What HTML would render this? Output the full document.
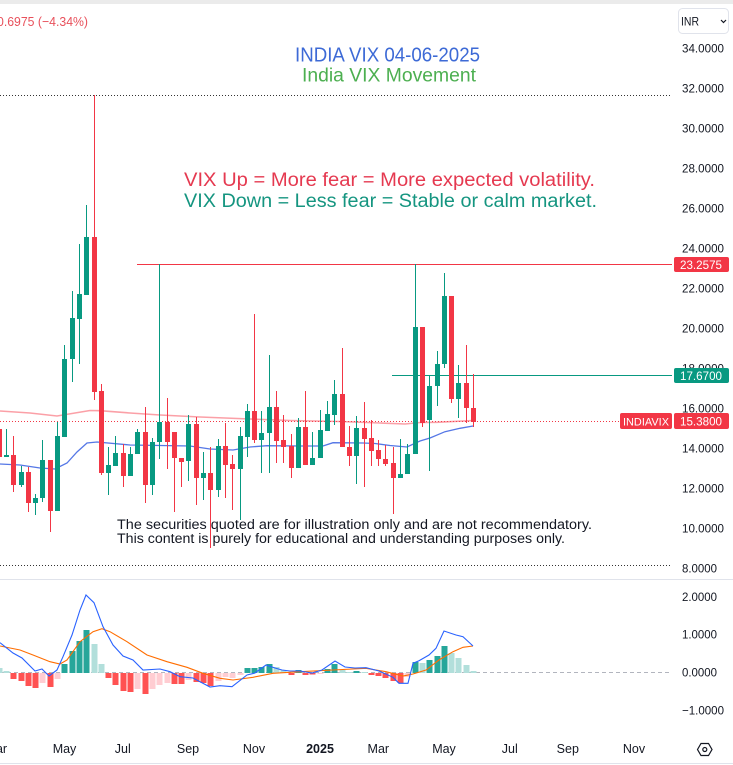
<!DOCTYPE html>
<html><head><meta charset="utf-8">
<style>
html,body{margin:0;padding:0;background:#fff;}
svg{display:block;font-family:"Liberation Sans","DejaVu Sans",sans-serif;}
</style></head>
<body>
<svg width="733" height="765" viewBox="0 0 733 765" xmlns="http://www.w3.org/2000/svg">
<rect x="0" y="0" width="733" height="765" fill="#ffffff"/>
<rect x="0" y="0" width="733" height="4" fill="#ebebeb"/>

<!-- header texts -->
<text x="-3" y="26" font-size="13" fill="#e8505b" textLength="91" lengthAdjust="spacingAndGlyphs">0.6975 (−4.34%)</text>
<text x="295" y="61.5" font-size="20" fill="#3d6ad6" textLength="185" lengthAdjust="spacingAndGlyphs">INDIA VIX 04-06-2025</text>
<text x="302" y="81.5" font-size="19" fill="#4caf50" textLength="174" lengthAdjust="spacingAndGlyphs">India VIX Movement</text>

<!-- INR box -->
<rect x="678.5" y="8.5" width="50" height="25" rx="4" fill="#fff" stroke="#e0e3eb"/>
<text x="681" y="25.5" font-size="12" fill="#131722" textLength="18" lengthAdjust="spacingAndGlyphs">INR</text>
<polyline points="721,20 723.5,22.5 726,20" fill="none" stroke="#131722" stroke-width="1.2"/>

<!-- dotted range lines -->
<line x1="0" y1="95.5" x2="672" y2="95.5" stroke="#333" stroke-dasharray="1 2"/>
<line x1="0" y1="565.5" x2="672" y2="565.5" stroke="#333" stroke-dasharray="1 2"/>

<!-- annotation texts -->
<text x="184" y="186" font-size="19" fill="#e53950" textLength="411" lengthAdjust="spacingAndGlyphs">VIX Up = More fear = More expected volatility.</text>
<text x="184" y="207" font-size="19" fill="#159580" textLength="413" lengthAdjust="spacingAndGlyphs">VIX Down = Less fear = Stable or calm market.</text>

<!-- horizontal lines -->
<line x1="137" y1="264.5" x2="672" y2="264.5" stroke="#f23645" stroke-width="1"/>
<line x1="392" y1="375.5" x2="672" y2="375.5" stroke="#089981" stroke-width="1"/>
<line x1="0" y1="421.5" x2="620" y2="421.5" stroke="#f23645" stroke-dasharray="1 2"/>

<!-- moving averages -->
<path d="M0 411 L30 413 L57 416 L75 413 L90 410.5 L100 410.7 L130 413 L160 415 L200 417 L250 419 L290 420.5 L340 421.5 L380 423 L405 424 L420 422.5 L437 422.3 L473 420.5" fill="none" stroke="#f7525f" stroke-opacity="0.55" stroke-width="1.6"/>
<path d="M0 464 L20 465 L40 468 L55 469 L67 463 L77 452 L87 443 L97 442 L130 445 L160 445.5 L190 446 L210 449 L233 450 L250 447 L267 445.7 L300 446 L323 446 L333 442.7 L363 443 L375 443.5 L390 445.5 L407 447 L420 441 L430 438 L445 431.7 L460 428.3 L473 426" fill="none" stroke="#5577e6" stroke-width="1.3"/>

<!-- candles: green -->
<path stroke="#089981" stroke-width="1" fill="none" d="M6.5 429V457 M21.5 466V487 M35.5 494V515 M42.5 440V502 M57.5 422V511 M64.5 345V437 M72.5 291V382 M79.5 244V364 M86.5 205V295 M108.5 447V495 M115.5 436V466 M130.5 447V476 M137.5 429V454 M152.5 438V495 M159.5 264V459 M188.5 415V481 M203.5 452V500 M218.5 439V497 M240.5 427V520 M247.5 404V457 M261.5 411V473 M269.5 355V473 M298.5 418V468 M312.5 432V465 M320.5 410V458 M327.5 401V431 M334.5 380V425 M356.5 416V484 M400.5 439V478 M407.5 444V474 M415.5 264V454 M429.5 376V471 M437.5 351V406 M444.5 273V368 M458.5 365V418"/>
<g fill="#089981">
<rect x="4" y="455" width="5" height="2"/>
<rect x="19" y="472" width="5" height="13"/>
<rect x="33" y="498" width="5" height="5"/>
<rect x="40" y="460" width="5" height="38"/>
<rect x="55" y="436" width="5" height="75"/>
<rect x="62" y="359" width="5" height="78"/>
<rect x="70" y="318" width="5" height="41"/>
<rect x="77" y="294" width="5" height="25"/>
<rect x="84" y="237" width="5" height="58"/>
<rect x="106" y="465" width="5" height="8"/>
<rect x="113" y="453" width="5" height="13"/>
<rect x="128" y="454" width="5" height="22"/>
<rect x="135" y="432" width="5" height="22"/>
<rect x="150" y="442" width="5" height="43"/>
<rect x="157" y="422" width="5" height="20"/>
<rect x="186" y="424" width="5" height="37"/>
<rect x="201" y="473" width="5" height="5"/>
<rect x="216" y="446" width="5" height="44"/>
<rect x="238" y="436" width="5" height="33"/>
<rect x="245" y="411" width="5" height="26"/>
<rect x="259" y="433" width="5" height="7"/>
<rect x="267" y="407" width="5" height="26"/>
<rect x="296" y="427" width="5" height="41"/>
<rect x="310" y="458" width="5" height="7"/>
<rect x="318" y="430" width="5" height="28"/>
<rect x="325" y="414" width="5" height="17"/>
<rect x="332" y="394" width="5" height="21"/>
<rect x="354" y="428" width="5" height="28"/>
<rect x="398" y="474" width="5" height="4"/>
<rect x="405" y="454" width="5" height="20"/>
<rect x="413" y="327" width="5" height="127"/>
<rect x="427" y="386" width="5" height="34"/>
<rect x="435" y="364" width="5" height="22"/>
<rect x="442" y="296" width="5" height="68"/>
<rect x="456" y="383" width="5" height="16"/>
</g>

<!-- candles: red -->
<path stroke="#f23645" stroke-width="1" fill="none" d="M-0.5 429V457 M13.5 436V492 M28.5 467V512 M50.5 460V532 M94.5 95V400 M101.5 384V475 M123.5 444V487 M145.5 407V503 M167.5 398V469 M174.5 432V512 M181.5 458V487 M196.5 417V505 M210.5 447V548 M225.5 423V498 M232.5 455V510 M254.5 314V443 M276.5 391V463 M283.5 415V463 M291.5 434V478 M305.5 391V465 M342.5 348V447 M349.5 426V466 M364.5 402V487 M371.5 420V466 M378.5 440V466 M385.5 445V466 M393.5 447V514 M422.5 327V427 M451.5 296V403 M466.5 345V423 M473.5 374V427"/>
<g fill="#f23645">
<rect x="-3" y="429" width="5" height="28"/>
<rect x="11" y="455" width="5" height="30"/>
<rect x="26" y="472" width="5" height="31"/>
<rect x="48" y="460" width="5" height="51"/>
<rect x="92" y="237" width="5" height="155"/>
<rect x="99" y="391" width="5" height="82"/>
<rect x="121" y="453" width="5" height="23"/>
<rect x="143" y="432" width="5" height="53"/>
<rect x="165" y="422" width="5" height="20"/>
<rect x="172" y="432" width="5" height="26"/>
<rect x="179" y="458" width="5" height="4"/>
<rect x="194" y="424" width="5" height="54"/>
<rect x="208" y="473" width="5" height="17"/>
<rect x="223" y="446" width="5" height="19"/>
<rect x="230" y="464" width="5" height="5"/>
<rect x="252" y="411" width="5" height="29"/>
<rect x="274" y="407" width="5" height="34"/>
<rect x="281" y="440" width="5" height="7"/>
<rect x="289" y="446" width="5" height="22"/>
<rect x="303" y="427" width="5" height="38"/>
<rect x="340" y="394" width="5" height="53"/>
<rect x="347" y="447" width="5" height="9"/>
<rect x="362" y="428" width="5" height="11"/>
<rect x="369" y="438" width="5" height="13"/>
<rect x="376" y="450" width="5" height="9"/>
<rect x="383" y="459" width="5" height="5"/>
<rect x="391" y="463" width="5" height="15"/>
<rect x="420" y="327" width="5" height="96"/>
<rect x="449" y="296" width="5" height="103"/>
<rect x="464" y="383" width="5" height="25"/>
<rect x="471" y="408" width="5" height="14"/>
</g>

<!-- disclaimer -->
<text x="117" y="529" font-size="13.5" fill="#131722" textLength="475" lengthAdjust="spacingAndGlyphs">The securities quoted are for illustration only and are not recommendatory.</text>
<text x="117" y="543" font-size="13.5" fill="#131722" textLength="448" lengthAdjust="spacingAndGlyphs">This content is purely for educational and understanding purposes only.</text>

<!-- price axis labels -->
<g font-size="12" fill="#131722">
<text x="682" y="52.5" textLength="42" lengthAdjust="spacingAndGlyphs">34.0000</text>
<text x="682" y="92.5" textLength="42" lengthAdjust="spacingAndGlyphs">32.0000</text>
<text x="682" y="132.5" textLength="42" lengthAdjust="spacingAndGlyphs">30.0000</text>
<text x="682" y="172.5" textLength="42" lengthAdjust="spacingAndGlyphs">28.0000</text>
<text x="682" y="212.5" textLength="42" lengthAdjust="spacingAndGlyphs">26.0000</text>
<text x="682" y="252.5" textLength="42" lengthAdjust="spacingAndGlyphs">24.0000</text>
<text x="682" y="292.5" textLength="42" lengthAdjust="spacingAndGlyphs">22.0000</text>
<text x="682" y="332.5" textLength="42" lengthAdjust="spacingAndGlyphs">20.0000</text>
<text x="682" y="372.5" textLength="42" lengthAdjust="spacingAndGlyphs">18.0000</text>
<text x="682" y="412.5" textLength="42" lengthAdjust="spacingAndGlyphs">16.0000</text>
<text x="682" y="452.5" textLength="42" lengthAdjust="spacingAndGlyphs">14.0000</text>
<text x="682" y="492.5" textLength="42" lengthAdjust="spacingAndGlyphs">12.0000</text>
<text x="682" y="532.5" textLength="42" lengthAdjust="spacingAndGlyphs">10.0000</text>
<text x="682" y="572.5" textLength="35" lengthAdjust="spacingAndGlyphs">8.0000</text>
</g>

<!-- price label boxes -->
<rect x="674" y="257" width="55" height="15" rx="2" fill="#f23645"/>
<text x="680" y="269" font-size="12" fill="#fff" textLength="42" lengthAdjust="spacingAndGlyphs">23.2575</text>
<rect x="674" y="368" width="55" height="15" rx="2" fill="#089981"/>
<text x="680" y="380" font-size="12" fill="#fff" textLength="42" lengthAdjust="spacingAndGlyphs">17.6700</text>
<rect x="620" y="413" width="52" height="16" rx="2" fill="#f23645"/>
<text x="623" y="425.5" font-size="11" fill="#fff" textLength="46" lengthAdjust="spacingAndGlyphs">INDIAVIX</text>
<rect x="674" y="413" width="55" height="16" rx="2" fill="#f23645"/>
<text x="680" y="425.5" font-size="12" fill="#fff" textLength="42" lengthAdjust="spacingAndGlyphs">15.3800</text>

<!-- pane separators -->
<line x1="0" y1="579.5" x2="733" y2="579.5" stroke="#e0e3eb"/>
<line x1="0" y1="763.5" x2="733" y2="763.5" stroke="#e0e3eb"/>

<!-- MACD pane -->
<line x1="0" y1="672.5" x2="672" y2="672.5" stroke="#b2b5be" stroke-dasharray="4 3"/>
<g fill="#b2dfdb">
<rect x="-3.5" y="668" width="6" height="5"/>
<rect x="3.5" y="671" width="6" height="2"/>
<rect x="91.5" y="644" width="6" height="29"/>
<rect x="98.5" y="664" width="6" height="9"/>
<rect x="273.5" y="667" width="6" height="6"/>
<rect x="280.5" y="670" width="6" height="3"/>
<rect x="339.5" y="670" width="6" height="3"/>
<rect x="346.5" y="672" width="6" height="1"/>
<rect x="361.5" y="672" width="6" height="1"/>
<rect x="419.5" y="663" width="6" height="10"/>
<rect x="448.5" y="653" width="6" height="20"/>
<rect x="455.5" y="658" width="6" height="15"/>
<rect x="463.5" y="665" width="6" height="8"/>
<rect x="470.5" y="671" width="6" height="2"/>
</g>
<g fill="#26a69a">
<rect x="61.5" y="664" width="6" height="9"/>
<rect x="69.5" y="651" width="6" height="22"/>
<rect x="76.5" y="641" width="6" height="32"/>
<rect x="83.5" y="630" width="6" height="43"/>
<rect x="244.5" y="668" width="6" height="5"/>
<rect x="251.5" y="668" width="6" height="5"/>
<rect x="258.5" y="667" width="6" height="6"/>
<rect x="266.5" y="664" width="6" height="9"/>
<rect x="295.5" y="670" width="6" height="3"/>
<rect x="324.5" y="669" width="6" height="4"/>
<rect x="331.5" y="664" width="6" height="9"/>
<rect x="353.5" y="671" width="6" height="2"/>
<rect x="412.5" y="662" width="6" height="11"/>
<rect x="426.5" y="660" width="6" height="13"/>
<rect x="434.5" y="656" width="6" height="17"/>
<rect x="441.5" y="646" width="6" height="27"/>
</g>
<g fill="#ff5252">
<rect x="10.5" y="673" width="6" height="6"/>
<rect x="18.5" y="673" width="6" height="8"/>
<rect x="25.5" y="673" width="6" height="13"/>
<rect x="32.5" y="673" width="6" height="15"/>
<rect x="47.5" y="673" width="6" height="14"/>
<rect x="105.5" y="673" width="6" height="5"/>
<rect x="112.5" y="673" width="6" height="12"/>
<rect x="120.5" y="673" width="6" height="18"/>
<rect x="127.5" y="673" width="6" height="19"/>
<rect x="142.5" y="673" width="6" height="21"/>
<rect x="171.5" y="673" width="6" height="11"/>
<rect x="178.5" y="673" width="6" height="11"/>
<rect x="193.5" y="673" width="6" height="9"/>
<rect x="200.5" y="673" width="6" height="10"/>
<rect x="207.5" y="673" width="6" height="13"/>
<rect x="288.5" y="673" width="6" height="2"/>
<rect x="302.5" y="673" width="6" height="2"/>
<rect x="309.5" y="673" width="6" height="1.5"/>
<rect x="368.5" y="673" width="6" height="2"/>
<rect x="375.5" y="673" width="6" height="3"/>
<rect x="382.5" y="673" width="6" height="5"/>
<rect x="390.5" y="673" width="6" height="8"/>
<rect x="397.5" y="673" width="6" height="10"/>
</g>
<g fill="#ffcdd2">
<rect x="39.5" y="673" width="6" height="10"/>
<rect x="54.5" y="673" width="6" height="6"/>
<rect x="134.5" y="673" width="6" height="16"/>
<rect x="149.5" y="673" width="6" height="16"/>
<rect x="156.5" y="673" width="6" height="12"/>
<rect x="164.5" y="673" width="6" height="10"/>
<rect x="185.5" y="673" width="6" height="7"/>
<rect x="215.5" y="673" width="6" height="8"/>
<rect x="222.5" y="673" width="6" height="4"/>
<rect x="229.5" y="673" width="6" height="5"/>
<rect x="237.5" y="673" width="6" height="2"/>
<rect x="317.5" y="673" width="6" height="1"/>
<rect x="404.5" y="673" width="6" height="4"/>
</g>
<path d="M0 646 L20 650 L33 655 L50 661.7 L60 664 L67 660 L80 641.7 L93 631.7 L102 628.7 L110 631.7 L127 641.7 L147 655 L167 661.7 L187 667.3 L203 673.3 L220 678.3 L233 680 L253 677.3 L273 673.3 L300 671.7 L333 670 L366 668.3 L386 671.7 L403 676 L413 674 L426 670 L439 660 L453 651.7 L463 647.3 L473 646" fill="none" stroke="#ff6d00" stroke-width="1.1"/>
<path d="M0 642.7 L13 653 L22 658 L35 671 L42 669 L49 676 L57 670 L63 656.7 L72 635 L80 610 L86 595 L94 602.7 L103 626.7 L113 645 L123 656 L133 660 L143 670 L160 669 L170 671.7 L180 676.7 L193 678 L210 687 L220 685.7 L232 686.7 L247 675 L255 673 L266 665 L275 668 L282 670 L290 671 L300 671 L312 673 L322 670 L335 661 L345 667 L355 668 L366 667.7 L379 671 L393 677.3 L399 683.3 L408 683.3 L413 663.3 L419 660.7 L429 655 L436 648.3 L444 631 L456 635 L463 636.7 L473 646" fill="none" stroke="#2962ff" stroke-width="1.1"/>

<g font-size="12" fill="#131722">
<text x="682" y="601" textLength="35" lengthAdjust="spacingAndGlyphs">2.0000</text>
<text x="682" y="638.5" textLength="35" lengthAdjust="spacingAndGlyphs">1.0000</text>
<text x="682" y="676.5" textLength="35" lengthAdjust="spacingAndGlyphs">0.0000</text>
<text x="682" y="714.5" textLength="42" lengthAdjust="spacingAndGlyphs">−1.0000</text>
</g>

<!-- time axis -->
<g font-size="12.5" fill="#131722" text-anchor="middle">
<text x="-3.7" y="753">Mar</text>
<text x="64.5" y="753">May</text>
<text x="122.8" y="753">Jul</text>
<text x="188" y="753">Sep</text>
<text x="254" y="753">Nov</text>
<text x="320" y="753" font-weight="bold">2025</text>
<text x="378.3" y="753">Mar</text>
<text x="444" y="753">May</text>
<text x="509.8" y="753">Jul</text>
<text x="567.8" y="753">Sep</text>
<text x="634" y="753">Nov</text>
</g>
<polygon points="697.5,749.5 701,743.5 708.5,743.5 712,749.5 708.5,755.5 701,755.5" fill="none" stroke="#131722" stroke-width="1.2"/>
<circle cx="704.8" cy="749.5" r="2" fill="none" stroke="#131722" stroke-width="1.2"/>
</svg>
</body></html>
